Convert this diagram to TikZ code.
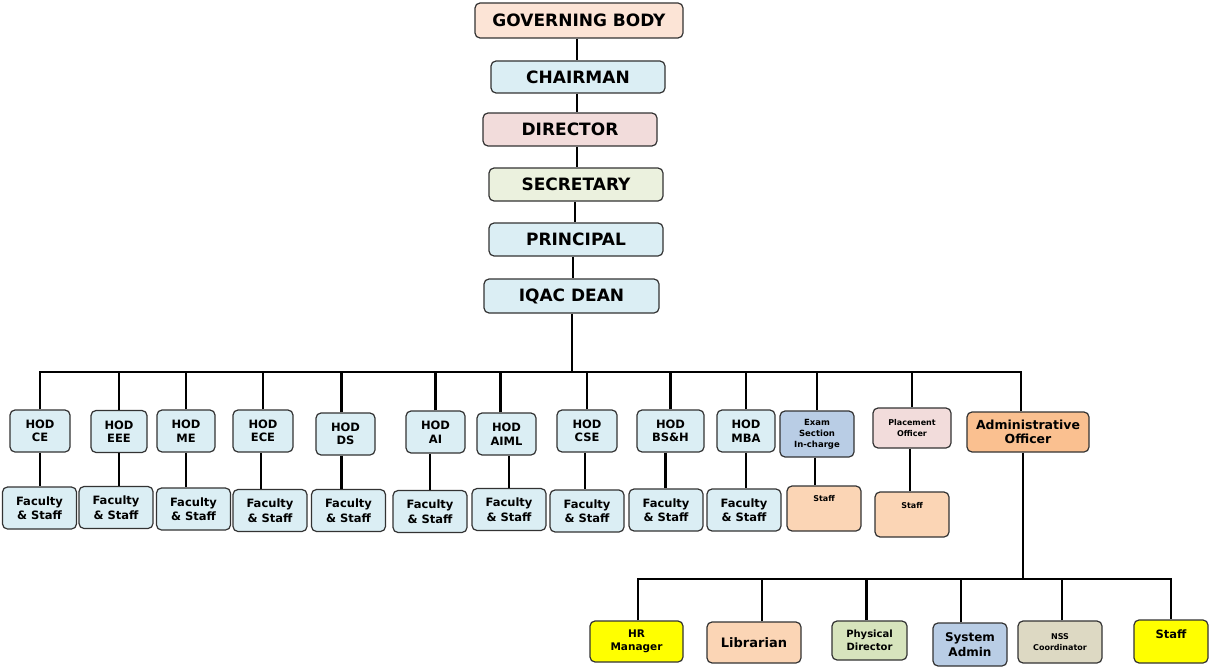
\documentclass[tikz,border=0pt]{standalone}
\usepackage{fontspec}
\setmainfont{DejaVu Sans}
\definecolor{cPeach}{HTML}{FCE4D6}
\definecolor{cBlue}{HTML}{DBEEF4}
\definecolor{cPink}{HTML}{F2DCDB}
\definecolor{cGreen}{HTML}{EBF1DE}
\definecolor{cSteel}{HTML}{B9CDE5}
\definecolor{cOrange}{HTML}{FAC090}
\definecolor{cTan}{HTML}{FBD5B5}
\definecolor{cYellow}{HTML}{FFFF00}
\definecolor{cOlive}{HTML}{D7E4BD}
\definecolor{cKhaki}{HTML}{DDD9C3}
\begin{document}
\begin{tikzpicture}[x=1pt,y=-1pt,
  box/.style={draw=black!80, line width=1.2pt, rounded corners=5pt, inner sep=1pt, align=center},
  wh/.style 2 args={minimum width=#1pt, minimum height=#2pt},
  topbox/.style={box, font=\fontsize{17}{20}\selectfont\bfseries},
  hodbox/.style={box, fill=cBlue, font=\fontsize{11.5}{13.5}\selectfont\bfseries},
  facbox/.style={box, fill=cBlue, wh={74}{42}, font=\fontsize{11.5}{14.5}\selectfont\bfseries},
  conn/.style={line width=2.8pt, black}]
\useasboundingbox (0,0) rectangle (1211,669);
% top chain
\node[topbox, fill=cPeach, wh={208}{35}] (gb)  at (579,20.5) {GOVERNING BODY};
\node[topbox, fill=cBlue,  wh={174}{32}] (ch)  at (578,77)   {CHAIRMAN};
\node[topbox, fill=cPink,  wh={174}{33}] (dir) at (570,129.5) {DIRECTOR};
\node[topbox, fill=cGreen, wh={174}{33}] (sec) at (576,184.5) {SECRETARY};
\node[topbox, fill=cBlue,  wh={174}{33}] (pri) at (576,239.5) {PRINCIPAL};
\node[topbox, fill=cBlue,  wh={175}{34}] (iq)  at (571.5,296) {IQAC DEAN};
\coordinate (sp) at (577,0);
\coordinate (bus) at (572,372);
\draw[conn] (gb.south -| sp) -- (ch.north -| sp);
\draw[conn] (ch.south -| sp) -- (dir.north -| sp);
\draw[conn] (dir.south -| sp) -- (sec.north -| sp);
\draw[conn] (sec.south -| 575,0) -- (pri.north -| 575,0);
\draw[conn] (pri.south -| 573,0) -- (iq.north -| 573,0);
\draw[conn] (iq.south -| bus) -- (bus);
% HOD row
\node[hodbox, wh={60}{42}] (hce)   at (40,431)   {HOD\\CE};
\node[hodbox, wh={56}{42}] (heee)  at (119,431.5) {HOD\\EEE};
\node[hodbox, wh={58}{42}] (hme)   at (186,431)  {HOD\\ME};
\node[hodbox, wh={60}{42}] (hece)  at (263,431)  {HOD\\ECE};
\node[hodbox, wh={59}{42}] (hds)   at (345.5,434) {HOD\\DS};
\node[hodbox, wh={59}{42}] (hai)   at (435.5,432) {HOD\\AI};
\node[hodbox, wh={59}{42}] (haiml) at (506.5,434) {HOD\\AIML};
\node[hodbox, wh={60}{42}] (hcse)  at (587,431)  {HOD\\CSE};
\node[hodbox, wh={67}{42}] (hbsh)  at (670.5,431) {HOD\\BS\&H};
\node[hodbox, wh={58}{42}] (hmba)  at (746,431)  {HOD\\MBA};
\node[box, fill=cSteel, wh={74}{46}, font=\fontsize{8.5}{11}\selectfont\bfseries] (exam) at (817,434) {Exam\\Section\\In-charge};
\node[box, fill=cPink, wh={78}{40}, font=\fontsize{8}{11}\selectfont\bfseries] (po) at (912,428) {Placement\\Officer};
\node[box, fill=cOrange, wh={122}{40}, font=\fontsize{12.5}{14}\selectfont\bfseries] (ao) at (1028,432) {Administrative\\Officer};
% bus to HOD row
\draw[conn] (hce.north) -- (hce.north |- bus) -- ([xshift=-7pt]ao.north |- bus) -- ([xshift=-7pt]ao.north);
\foreach \n in {heee,hme,hece,hai,hcse,hbsh,hmba,exam,po}
  \draw[conn] (\n.north) -- (\n.north |- bus);
\draw[conn] ([xshift=-4pt]hds.north) -- ([xshift=-4pt]hds.north |- bus);
\draw[conn] ([xshift=-6pt]haiml.north) -- ([xshift=-6pt]haiml.north |- bus);
% faculty row
\node[facbox] (fce)   at (39.5,508)  {Faculty\\\& Staff};
\node[facbox] (feee)  at (116,507.5) {Faculty\\\& Staff};
\node[facbox] (fme)   at (193.5,509) {Faculty\\\& Staff};
\node[facbox] (fece)  at (270,510.5) {Faculty\\\& Staff};
\node[facbox] (fds)   at (348.5,510.5) {Faculty\\\& Staff};
\node[facbox] (fai)   at (430,511.5) {Faculty\\\& Staff};
\node[facbox] (faiml) at (509,509.5) {Faculty\\\& Staff};
\node[facbox] (fcse)  at (587,511)   {Faculty\\\& Staff};
\node[facbox] (fbsh)  at (666,510)   {Faculty\\\& Staff};
\node[facbox] (fmba)  at (744,510)   {Faculty\\\& Staff};
\node[box, fill=cTan, wh={74}{45}, label={[anchor=north, yshift=-6pt, font=\fontsize{8}{9}\selectfont\bfseries]north:Staff}] (exst) at (824,508.5) {};
\node[box, fill=cTan, wh={74}{45}, label={[anchor=north, yshift=-7pt, font=\fontsize{8}{9}\selectfont\bfseries]north:Staff}] (post) at (912,514.5) {};
\draw[conn] (hce.south) -- (hce.south |- fce.north);
\draw[conn] (heee.south) -- (heee.south |- feee.north);
\draw[conn] (hme.south) -- (hme.south |- fme.north);
\draw[conn] ([xshift=-2pt]hece.south) -- ([xshift=-2pt]hece.south |- fece.north);
\draw[conn] ([xshift=-4pt]hds.south) -- ([xshift=-4pt]hds.south |- fds.north);
\draw[conn] (fai.north |- hai.south) -- (fai.north);
\draw[conn] (faiml.north |- haiml.south) -- (faiml.north);
\draw[conn] ([xshift=-2pt]hcse.south) -- ([xshift=-2pt]hcse.south |- fcse.north);
\draw[conn] ([xshift=-5pt]hbsh.south) -- ([xshift=-5pt]hbsh.south |- fbsh.north);
\draw[conn] (hmba.south) -- (hmba.south |- fmba.north);
\draw[conn] ([xshift=-2pt]exam.south) -- ([xshift=-2pt]exam.south |- exst.north);
\draw[conn] ([xshift=-2pt]po.south) -- ([xshift=-2pt]post.north);
% administrative branch
\coordinate (bus2) at (1023,579);
\node[box, fill=cYellow, wh={93}{41}, font=\fontsize{10.5}{13}\selectfont\bfseries] (hr) at (636.5,641.5) {HR\\Manager};
\node[box, fill=cTan, wh={94}{41}, font=\fontsize{13}{15}\selectfont\bfseries] (lib) at (754,642.5) {Librarian};
\node[box, fill=cOlive, wh={75}{39}, font=\fontsize{10}{13.5}\selectfont\bfseries] (pd) at (869.5,640.5) {Physical\\Director};
\node[box, fill=cSteel, wh={74}{43}, font=\fontsize{12}{15}\selectfont\bfseries] (sa) at (970,644.5) {System\\Admin};
\node[box, fill=cKhaki, wh={84}{42}, font=\fontsize{8}{11}\selectfont\bfseries] (nss) at (1060,642) {NSS\\Coordinator};
\node[box, fill=cYellow, wh={74}{43}, label={[anchor=north, yshift=-7pt, font=\fontsize{11.5}{13}\selectfont\bfseries]north:Staff}] (st) at (1171,641.5) {};
\draw[conn] ([xshift=-5pt]ao.south) -- ([xshift=-5pt]ao.south |- bus2);
\draw[conn] ([xshift=1.5pt]hr.north) -- ([xshift=1.5pt]hr.north |- bus2) -- (st.north |- bus2) -- (st.north);
\draw[conn] ([xshift=8pt]lib.north) -- ([xshift=8pt]lib.north |- bus2);
\draw[conn] ([xshift=-3pt]pd.north) -- ([xshift=-3pt]pd.north |- bus2);
\draw[conn] ([xshift=-9pt]sa.north) -- ([xshift=-9pt]sa.north |- bus2);
\draw[conn] ([xshift=2pt]nss.north) -- ([xshift=2pt]nss.north |- bus2);
\end{tikzpicture}
\end{document}
